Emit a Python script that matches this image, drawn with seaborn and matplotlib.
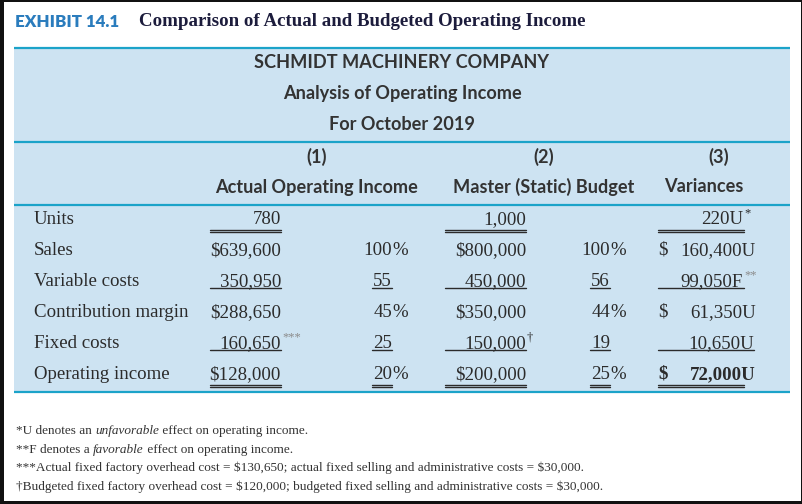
import matplotlib
matplotlib.use("Agg")
import matplotlib.pyplot as plt
import seaborn as sns
from matplotlib.patches import Rectangle

sns.set_theme(style="white")
plt.rcParams['font.family'] = ['Liberation Serif', 'DejaVu Serif']

# ---------------- data ----------------
exhibit_label = "EXHIBIT 14.1"
title = "Comparison of Actual and Budgeted Operating Income"
header_lines = ["SCHMIDT MACHINERY COMPANY", "Analysis of Operating Income", "For October 2019"]
col_numbers = ["(1)", "(2)", "(3)"]
col_titles = ["Actual Operating Income", "Master (Static) Budget", "Variances"]
row_labels = ["Units", "Sales", "Variable costs", "Contribution margin", "Fixed costs", "Operating income"]
actual = [780, 639600, 350950, 288650, 160650, 128000]
actual_pct = [None, 100, 55, 45, 25, 20]
budget = [1000, 800000, 450000, 350000, 150000, 200000]
budget_pct = [None, 100, 56, 44, 19, 25]
variance = [220, 160400, 99050, 61350, 10650, 72000]
variance_flag = ["U", "U", "F", "U", "U", "U"]
dollar_rows = [False, True, False, True, False, True]
underline = ["double", None, "single", None, "single", "double"]
actual_marks = ["", "", "", "", "***", ""]
budget_marks = ["", "", "", "", "\u2020", ""]
variance_marks = ["*", "", "**", "", "", ""]
footnotes = [
    [("*U denotes an ", "normal"), ("unfavorable", "italic"), (" effect on operating income.", "normal")],
    [("**F denotes a ", "normal"), ("favorable", "italic"), (" effect on operating income.", "normal")],
    [("***Actual fixed factory overhead cost = $130,650; actual fixed selling and administrative costs = $30,000.", "normal")],
    [("\u2020Budgeted fixed factory overhead cost = $120,000; budgeted fixed selling and administrative costs = $30,000.", "normal")],
]

# ---------------- style / layout ----------------
W, H = 803, 504
BLUE_FILL = "#cde3f2"
CYAN = "#1ba3c9"
TXT = "#2b2b2b"
SANS = ['Lato', 'DejaVu Sans']
SERIF = ['Liberation Serif', 'DejaVu Serif']
BODY = 13.6
HEAD = 13.1

fig = plt.figure(figsize=(W / 100, H / 100), dpi=100)
ax = fig.add_axes([0, 0, 1, 1])
ax.set_xlim(0, W)
ax.set_ylim(H, 0)
ax.axis("off")

# outer black frame
ax.add_patch(Rectangle((0, 0), W, H, facecolor="white", edgecolor="none", zorder=0))
for (x0, y0, w, h) in [(0, 0, W, 2), (0, 0, 4, H), (801.5, 0, 2, H), (0, 500.5, W, 4)]:
    ax.add_patch(Rectangle((x0, y0), w, h, facecolor="#111111", edgecolor="none", zorder=5))

# blue box
box_l, box_r, box_t, box_b = 14, 790, 48, 392
ax.add_patch(Rectangle((box_l, box_t), box_r - box_l, box_b - box_t, facecolor=BLUE_FILL,
                       edgecolor="none", zorder=1))
for yy in [box_t, 142, 205, box_b]:
    ax.plot([box_l, box_r], [yy, yy], color=CYAN, lw=1.6, zorder=2, solid_capstyle="butt")

# exhibit title
ax.text(15, 22, exhibit_label, family=SANS, fontsize=12.2, color="#2a7cbd", ha="left",
        va="center", fontweight="heavy")
ax.text(139, 22, title, family=SERIF, fontsize=13.6, color="#1c1c3c", ha="left",
        va="center", fontweight="bold")

# header lines
for txt, yy in zip(header_lines, [62, 93, 124]):
    ax.text(402, yy, txt, family=SANS, fontsize=HEAD, color="#333333", ha="center",
            va="center", fontweight="bold")
num_centers = [317, 544, 719]
title_centers = [317, 544, 704]
for nm, ttl, cx, tx in zip(col_numbers, col_titles, num_centers, title_centers):
    ax.text(cx, 157, nm, family=SANS, fontsize=HEAD, color="#333333", ha="center",
            va="center", fontweight="bold")
    ax.text(tx, 187, ttl, family=SANS, fontsize=HEAD, color="#333333", ha="center",
            va="center", fontweight="bold")

# table body
baselines = [224, 255, 286, 317, 348, 379]
label_x = 34
a_right, a_ul = 281, (210, 281)
ap_right, ap_ul = 392, (372, 392)
b_right, b_ul = 526, (445, 526)
bp_right, bp_ul = 610, (590, 610)
v_dollar_x = 658
v_right = [743, 756, 743, 756, 754, 756]
v_ul = (658, 744)
v_ul_single_fixed = (658, 754)


def num(v):
    return f"{v:,}"


def draw_ul(x0, x1, yb, kind):
    if kind == "single":
        ax.plot([x0, x1], [yb + 2, yb + 2], color=TXT, lw=1.0, zorder=3)
    elif kind == "double":
        ax.plot([x0, x1], [yb + 5.5, yb + 5.5], color=TXT, lw=1.0, zorder=3)
        ax.plot([x0, x1], [yb + 8, yb + 8], color=TXT, lw=1.0, zorder=3)


def sup(x, yb, s, color):
    ax.text(x + 1, yb - 8, s, family=SERIF, fontsize=9, color=color, ha="left",
            va="baseline", parse_math=False)


for i, lab in enumerate(row_labels):
    yb = baselines[i]
    ax.text(label_x, yb, lab, family=SERIF, fontsize=BODY, color=TXT, ha="left", va="baseline")
    pre = "$" if dollar_rows[i] else ""
    # actual
    ax.text(a_right, yb, pre + num(actual[i]), family=SERIF, fontsize=BODY, color=TXT,
            ha="right", va="baseline", parse_math=False)
    if actual_marks[i]:
        sup(a_right, yb, actual_marks[i], "#8a8a8a")
    # budget
    ax.text(b_right, yb, pre + num(budget[i]), family=SERIF, fontsize=BODY, color=TXT,
            ha="right", va="baseline", parse_math=False)
    if budget_marks[i]:
        sup(b_right, yb, budget_marks[i], TXT)
    # percents
    for pv, pr, ul in [(actual_pct[i], ap_right, ap_ul), (budget_pct[i], bp_right, bp_ul)]:
        if pv is None:
            continue
        ax.text(pr, yb, str(pv), family=SERIF, fontsize=BODY, color=TXT, ha="right", va="baseline")
        if dollar_rows[i]:
            ax.text(pr, yb, "%", family=SERIF, fontsize=BODY, color=TXT, ha="left", va="baseline")
        if underline[i]:
            draw_ul(ul[0], ul[1], yb, underline[i])
    # variance
    bold = "bold" if i == len(row_labels) - 1 else "normal"
    if dollar_rows[i]:
        ax.text(v_dollar_x, yb, "$", family=SERIF, fontsize=BODY, color=TXT, ha="left",
                va="baseline", fontweight=bold, parse_math=False)
    ax.text(v_right[i], yb, num(variance[i]) + variance_flag[i], family=SERIF, fontsize=BODY,
            color=TXT, ha="right", va="baseline", fontweight=bold)
    if variance_marks[i]:
        sup(v_right[i], yb, variance_marks[i], TXT if variance_marks[i] == "*" else "#8a8a8a")
    # underlines for value columns
    if underline[i]:
        draw_ul(a_ul[0], a_ul[1], yb, underline[i])
        draw_ul(b_ul[0], b_ul[1], yb, underline[i])
        vu = v_ul_single_fixed if i == 4 else v_ul
        draw_ul(vu[0], vu[1], yb, underline[i])

# footnotes
r = fig.canvas.get_renderer()
for fn, yy in zip(footnotes, [434, 453, 471, 490]):
    x = 16
    for seg, style in fn:
        t = ax.text(x, yy, seg, family=SERIF, fontsize=9.5, color="#333333", ha="left",
                    va="baseline", style=style, parse_math=False)
        bb = t.get_window_extent(renderer=r)
        x += bb.width * (W / fig.bbox.width)

fig.savefig("out.png", dpi=100)
